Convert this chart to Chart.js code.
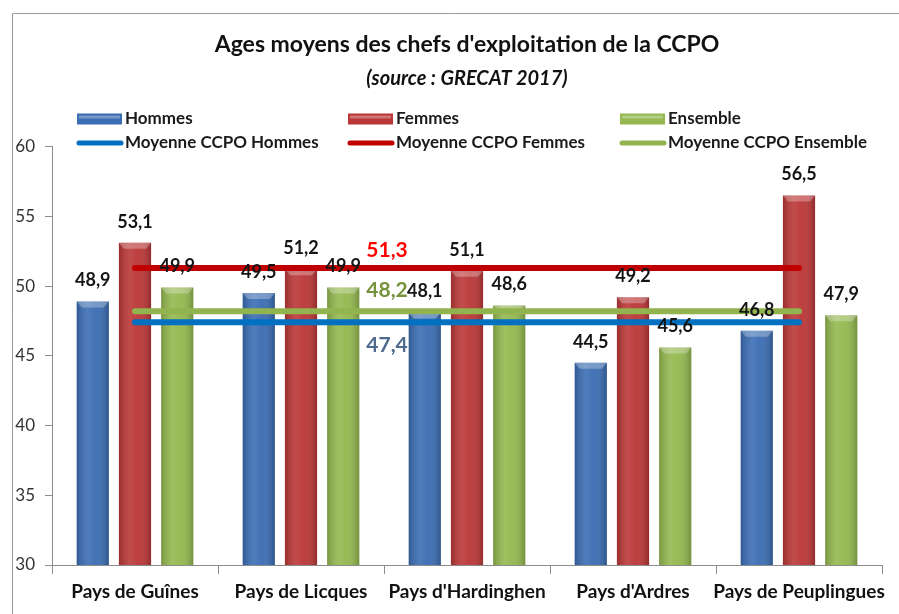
<!DOCTYPE html>
<html>
<head>
<meta charset="utf-8">
<title>Ages moyens des chefs d'exploitation de la CCPO</title>
<script src="https://cdn.jsdelivr.net/npm/chart.js@4.4.0/dist/chart.umd.min.js"></script>
<style>
    html, body {
        margin: 0;
        padding: 0;
        background: #fff;
    }
    #wrap {
        position: relative;
        width: 899px;
        height: 614px;
    }
</style>
</head>
<body>
<div id="wrap"><canvas id="chart" width="899" height="614"></canvas></div>
<script>
var categories = ["Pays de Guînes", "Pays de Licques", "Pays d'Hardinghen", "Pays d'Ardres", "Pays de Peuplingues"];
var hommes = [48.9, 49.5, 48.1, 44.5, 46.8];
var femmes = [53.1, 51.2, 51.1, 49.2, 56.5];
var ensemble = [49.9, 49.9, 48.6, 45.6, 47.9];
var moyenneHommes = [47.4, 47.4, 47.4, 47.4, 47.4];
var moyenneFemmes = [51.3, 51.3, 51.3, 51.3, 51.3];
var moyenneEnsemble = [48.2, 48.2, 48.2, 48.2, 48.2];
var yMin = 30, yMax = 60, yStep = 5;

var FONT = "Lato, 'Open Sans', sans-serif";

var COLORS = {
    hommes: "#3b6db3",
    femmes: "#bb3737",
    ensemble: "#94b84f",
    lineHommes: "#0070c0",
    lineFemmes: "#c00000",
    lineEnsemble: "#92b44f"
};

function fmt(v) {
    return v.toFixed(1).replace(".", ",");
}

// cadre gris autour du graphique
var frame = {
    id: "frame",
    beforeDraw: function(chart) {
        var ctx = chart.ctx;
        ctx.save();
        ctx.strokeStyle = "#9a9a9a";
        ctx.lineWidth = 1;
        ctx.beginPath();
        ctx.moveTo(12.5, 614);
        ctx.lineTo(12.5, 13.5);
        ctx.lineTo(899, 13.5);
        ctx.stroke();
        ctx.restore();
    }
};

// petit relief sur les barres
var barShade = {
    id: "barShade",
    afterDatasetDraw: function(chart, args) {
        var meta = args.meta;
        if (meta.type !== "bar") {
            return;
        }
        var ctx = chart.ctx,
            bottom = chart.chartArea.bottom;
        ctx.save();
        meta.data.forEach(function(bar) {
            var left = bar.x - bar.width / 2,
                top = bar.y,
                h = Math.min(bar.base, bottom) - bar.y;
            var g = ctx.createLinearGradient(left, 0, left + bar.width, 0);
            g.addColorStop(0, "rgba(0,0,0,0.18)");
            g.addColorStop(0.35, "rgba(255,255,255,0.10)");
            g.addColorStop(0.6, "rgba(255,255,255,0.04)");
            g.addColorStop(1, "rgba(0,0,0,0.22)");
            ctx.fillStyle = g;
            ctx.fillRect(left, top, bar.width, h);

            // biseau du haut
            ctx.fillStyle = "rgba(255,255,255,0.28)";
            ctx.beginPath();
            ctx.moveTo(left, top);
            ctx.lineTo(left + bar.width, top);
            ctx.lineTo(left + bar.width - 5, top + 6);
            ctx.lineTo(left + 5, top + 6);
            ctx.closePath();
            ctx.fill();
        });
        ctx.restore();
    }
};

var valueLabels = {
    id: "valueLabels",
    afterDatasetsDraw: function(chart) {
        var ctx = chart.ctx;
        ctx.save();
        ctx.textAlign = "center";
        ctx.textBaseline = "middle";
        ctx.font = "bold 18px " + FONT;
        ctx.fillStyle = "#151515";

        chart.data.datasets.forEach(function(ds, i) {
            if (ds.type !== "bar") {
                return;
            }
            chart.getDatasetMeta(i).data.forEach(function(bar, j) {
                ctx.fillText(fmt(ds.data[j]), bar.x, bar.y - 21);
            });
        });

        // valeurs des moyennes, entre Licques et Hardinghen
        var x = chart.scales.x.getPixelForValue(1.5) + 3,
            y = chart.scales.y;
        ctx.font = "bold 21px " + FONT;
        ctx.fillStyle = "#ff0000";
        ctx.fillText(fmt(moyenneFemmes[1]), x, y.getPixelForValue(moyenneFemmes[1]) - 18);
        ctx.fillStyle = "#76923c";
        ctx.fillText(fmt(moyenneEnsemble[1]), x, y.getPixelForValue(moyenneEnsemble[1]) - 21);
        ctx.fillStyle = "#4f6a8f";
        ctx.fillText(fmt(moyenneHommes[1]), x, y.getPixelForValue(moyenneHommes[1]) + 23);
        ctx.restore();
    }
};

// légende sur deux lignes, trois colonnes
var gridLegend = {
    id: "gridLegend",
    afterDraw: function(chart) {
        var ctx = chart.ctx;
        var cols = [77, 348, 620],
            rows = [119, 143];
        var items = [
            { text: "Hommes", color: COLORS.hommes, bar: true },
            { text: "Femmes", color: COLORS.femmes, bar: true },
            { text: "Ensemble", color: COLORS.ensemble, bar: true },
            { text: "Moyenne CCPO Hommes", color: COLORS.lineHommes },
            { text: "Moyenne CCPO Femmes", color: COLORS.lineFemmes },
            { text: "Moyenne CCPO Ensemble", color: COLORS.lineEnsemble }
        ];
        ctx.save();
        ctx.font = "bold 17px " + FONT;
        ctx.textBaseline = "middle";
        ctx.textAlign = "left";
        items.forEach(function(it, i) {
            var x = cols[i % 3],
                y = rows[Math.floor(i / 3)];
            if (it.bar) {
                ctx.fillStyle = it.color;
                ctx.fillRect(x, y - 5.5, 45, 11);
                ctx.fillStyle = "rgba(255,255,255,0.3)";
                ctx.fillRect(x + 2, y - 3.5, 41, 3);
            } else {
                ctx.strokeStyle = it.color;
                ctx.lineWidth = 5;
                ctx.lineCap = "round";
                ctx.beginPath();
                ctx.moveTo(x + 2, y);
                ctx.lineTo(x + 44, y);
                ctx.stroke();
            }
            ctx.fillStyle = "#1a1a1a";
            ctx.fillText(it.text, x + 48, y);
        });
        ctx.restore();
    }
};

function lineDataset(label, data, color) {
    return {
        type: "line",
        label: label,
        data: data,
        borderColor: color,
        backgroundColor: color,
        borderWidth: 6,
        borderCapStyle: "round",
        pointRadius: 0,
        fill: false,
        order: 0
    };
}

function barDataset(label, data, color) {
    return {
        type: "bar",
        label: label,
        data: data,
        backgroundColor: color,
        borderWidth: 0,
        categoryPercentage: 0.763,
        barPercentage: 0.762,
        order: 1
    };
}

var chart = new Chart(document.getElementById("chart"), {
    type: "bar",
    data: {
        labels: categories,
        datasets: [
            barDataset("Hommes", hommes, COLORS.hommes),
            barDataset("Femmes", femmes, COLORS.femmes),
            barDataset("Ensemble", ensemble, COLORS.ensemble),
            lineDataset("Moyenne CCPO Hommes", moyenneHommes, COLORS.lineHommes),
            lineDataset("Moyenne CCPO Femmes", moyenneFemmes, COLORS.lineFemmes),
            lineDataset("Moyenne CCPO Ensemble", moyenneEnsemble, COLORS.lineEnsemble)
        ]
    },
    options: {
        responsive: false,
        animation: false,
        layout: {
            padding: { top: 13, left: 8, right: 17, bottom: 9 }
        },
        plugins: {
            legend: { display: false },
            tooltip: { enabled: false },
            title: {
                display: true,
                fullSize: false,
                text: "Ages moyens des chefs d'exploitation de la CCPO",
                color: "#111",
                font: { family: FONT, size: 23, weight: "bold" },
                padding: { top: 18, bottom: 5 }
            },
            subtitle: {
                display: true,
                fullSize: false,
                text: "(source : GRECAT 2017)",
                color: "#111",
                font: { family: FONT, size: 20, weight: "bold", style: "italic" },
                padding: { top: 3, bottom: 56 }
            }
        },
        scales: {
            x: {
                offset: true,
                grid: {
                    offset: true,
                    drawOnChartArea: false,
                    tickLength: 9,
                    color: "#8c8c8c"
                },
                border: { color: "#8c8c8c" },
                ticks: {
                    color: "#111",
                    padding: 6,
                    autoSkip: false,
                    maxRotation: 0,
                    minRotation: 0,
                    font: { family: FONT, size: 19, weight: "bold" }
                },
                afterFit: function(scale) {
                    scale.height = 40;
                }
            },
            y: {
                min: yMin,
                max: yMax,
                grid: {
                    drawOnChartArea: false,
                    tickLength: 7,
                    color: "#8c8c8c"
                },
                border: { color: "#8c8c8c" },
                ticks: {
                    stepSize: yStep,
                    color: "#333",
                    padding: 10,
                    font: { family: FONT, size: 17 }
                },
                afterFit: function(scale) {
                    scale.width = 44;
                }
            }
        }
    },
    plugins: [frame, barShade, valueLabels, gridLegend]
});
</script>
</body>
</html>
